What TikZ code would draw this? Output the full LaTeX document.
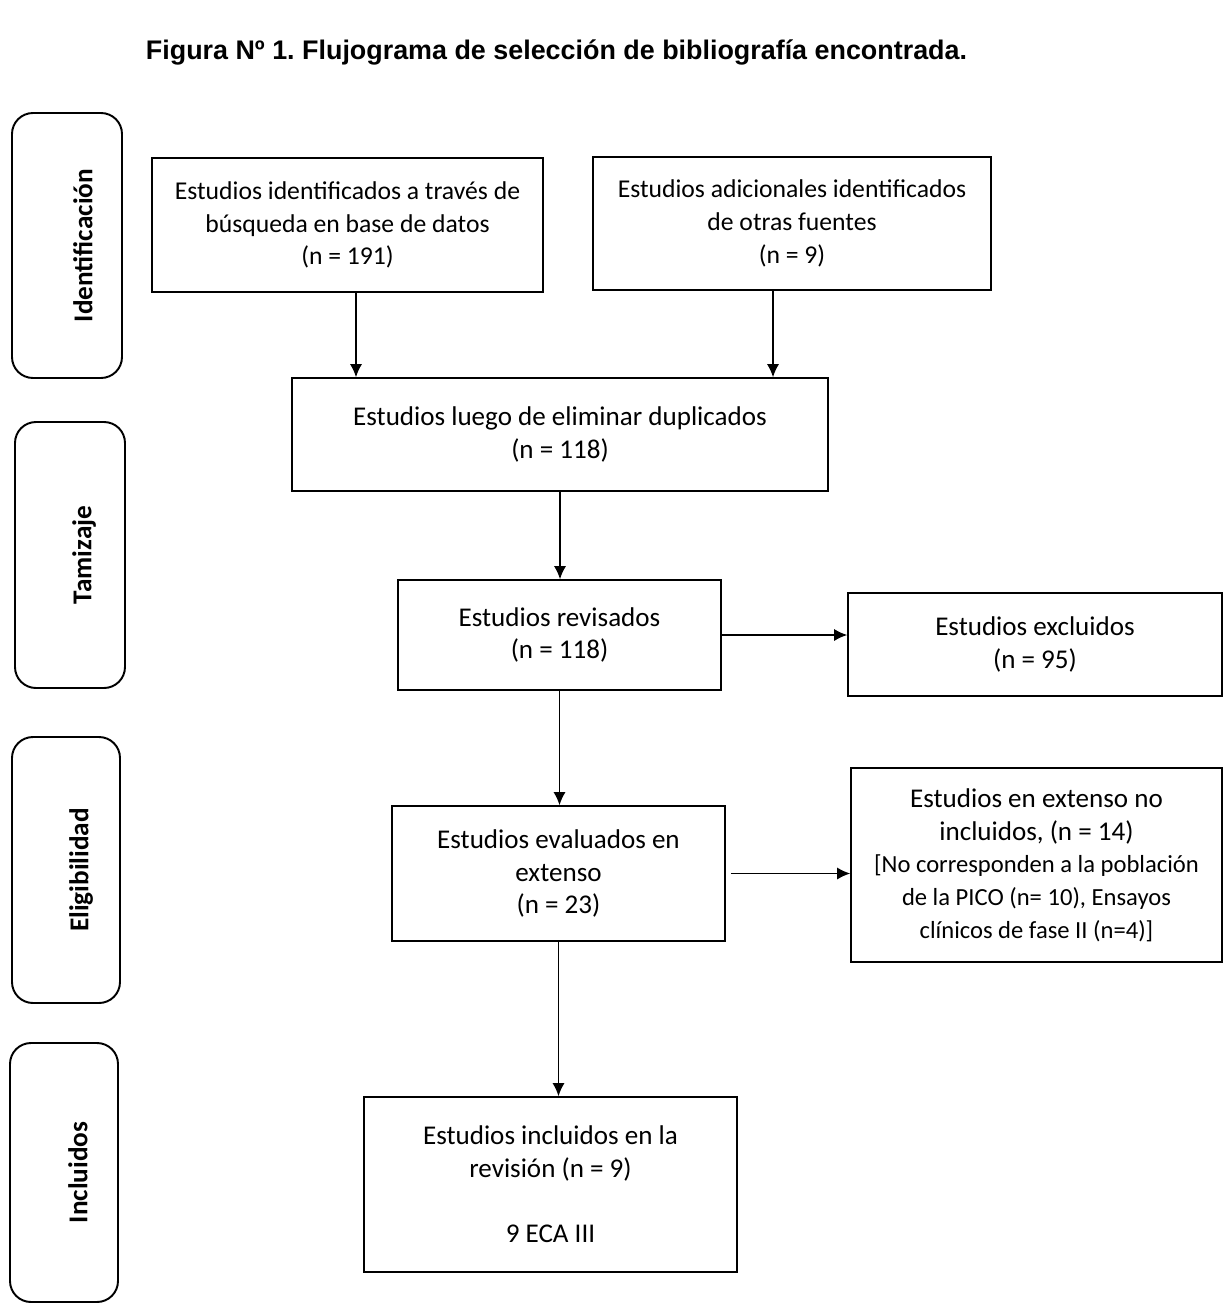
\documentclass[tikz,border=0pt]{standalone}
\usepackage{fontspec}
\setmainfont{Carlito}
\newfontfamily\titlefont{Liberation Sans}
\usetikzlibrary{arrows.meta}
\frenchspacing
\newcommand{\smtxt}{\fontsize{14}{18.5}\selectfont}
\begin{document}
\begin{tikzpicture}[
    box/.style={draw, line width=0.9pt, inner sep=0pt, align=center, font=\fontsize{15.4}{18.6}\selectfont},
    smallbox/.style={box, font=\fontsize{14.6}{18.6}\selectfont},
    phase/.style={draw, line width=1.1pt, rounded corners=0.42cm, minimum width=2.2cm, minimum height=5.3cm},
    phasetxt/.style={rotate=90, font=\fontsize{15.5}{18}\selectfont\bfseries},
    arr/.style={line width=0.8pt, -{Latex[length=2.6mm,width=2.4mm]}}
  ]
  \useasboundingbox (0,0) rectangle (24.52,-26.1);
  \node[font=\titlefont\bfseries\fontsize{15.3}{18}\selectfont] (title) at (11.13,-1.04) {Figura Nº 1. Flujograma de selección de bibliografía encontrada.};

  \node[phase] (fIdent) at (1.34,-4.91) {};
  \node[phase, minimum height=5.32cm] (fTamiz) at (1.40,-11.10) {};
  \node[phase, minimum width=2.16cm, minimum height=5.32cm] (fEleg) at (1.32,-17.40) {};
  \node[phase, minimum width=2.16cm, minimum height=5.18cm] (fIncl) at (1.28,-23.45) {};
  \node[phasetxt] (tIdent) at ([xshift=0.32cm]fIdent.center) {Identificación};
  \node[phasetxt] (tTamiz) at ([xshift=0.28cm]fTamiz.center) {Tamizaje};
  \node[phasetxt] (tEleg) at ([xshift=0.30cm]fEleg.center) {Eligibilidad};
  \node[phasetxt] (tIncl) at ([xshift=0.28cm]fIncl.center) {Incluidos};

  \node[smallbox, minimum width=7.82cm, minimum height=2.68cm] (bd) at (6.95,-4.50) {Estudios identificados a través de\\ búsqueda en base de datos\\ (n = 191)};
  \node[smallbox, minimum width=7.96cm, minimum height=2.66cm] (otras) at (15.84,-4.47) {Estudios adicionales identificados\\ de otras fuentes\\ (n = 9)};
  \node[box, minimum width=10.72cm, minimum height=2.26cm] (dup) at (11.20,-8.69) {Estudios luego de eliminar duplicados\\ (n = 118)};
  \node[box, minimum width=6.46cm, minimum height=2.20cm] (rev) at (11.19,-12.70) {Estudios revisados\\ (n = 118)};
  \node[box, minimum width=7.48cm, minimum height=2.06cm] (excl) at (20.70,-12.89) {Estudios excluidos\\ (n = 95)};
  \node[box, minimum width=6.66cm, minimum height=2.70cm] (eval) at (11.17,-17.47) {Estudios evaluados en\\ extenso\\ (n = 23)};
  \node[box, minimum width=7.42cm, minimum height=3.88cm] (noinc) at (20.73,-17.30) {Estudios en extenso no\\ incluidos, (n = 14)\\ \smtxt{}[No corresponden a la población\\ \smtxt de la PICO (n= 10), Ensayos\\ \smtxt clínicos de fase II (n=4)]};
  \node[box, minimum width=7.46cm, minimum height=3.50cm] (incl) at (11.01,-23.69) {Estudios incluidos en la\\ revisión (n = 9)\\[18.6pt] 9 ECA III};

  \coordinate (xa) at (7.12,0);
  \coordinate (xb) at (15.46,0);
  \draw[arr] (bd.south -| xa) -- (dup.north -| xa);
  \draw[arr] (otras.south -| xb) -- (dup.north -| xb);
  \draw[arr] (dup.south) -- (dup.south |- rev.north);
  \draw[arr] (rev.east) -- (rev.east -| excl.west);
  \draw[arr] (rev.south) -- (rev.south |- eval.north);
  \draw[arr] ([xshift=0.1cm]eval.east) -- (eval.east -| noinc.west);
  \draw[arr] (eval.south) -- (eval.south |- incl.north);
\end{tikzpicture}
\end{document}
